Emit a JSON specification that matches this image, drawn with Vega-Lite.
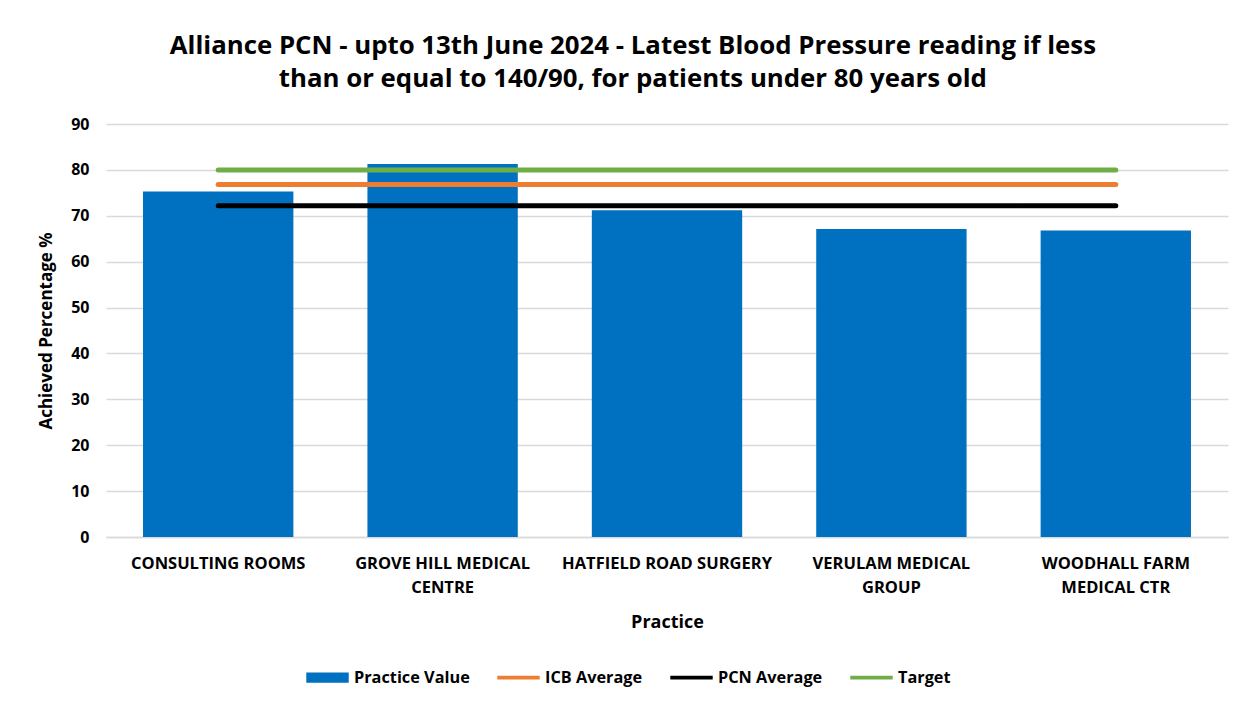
{
  "$schema": "https://vega.github.io/schema/vega-lite/v6.json",
  "width": 1122,
  "height": 413,
  "autosize": "none",
  "padding": {"left": 106, "top": 124, "right": 14, "bottom": 169},
  "background": "white",
  "config": {"view": {"stroke": null}},
  "title": {
    "text": ["Alliance PCN - upto 13th June 2024 - Latest Blood Pressure reading if less", "than or equal to 140/90, for patients under 80 years old"],
    "font": "Open Sans",
    "fontSize": 25.8,
    "fontWeight": "bold",
    "color": "#000000",
    "anchor": "middle",
    "frame": "bounds",
    "lineHeight": 33,
    "offset": 23
  },
  "data": {
    "values": [
      {"practice": "CONSULTING ROOMS", "series": "Practice Value", "value": 75.3},
      {"practice": "GROVE HILL MEDICAL CENTRE", "series": "Practice Value", "value": 81.3},
      {"practice": "HATFIELD ROAD SURGERY", "series": "Practice Value", "value": 71.2},
      {"practice": "VERULAM MEDICAL GROUP", "series": "Practice Value", "value": 67.1},
      {"practice": "WOODHALL FARM MEDICAL CTR", "series": "Practice Value", "value": 66.8},
      {"practice": "CONSULTING ROOMS", "series": "ICB Average", "value": 76.8},
      {"practice": "GROVE HILL MEDICAL CENTRE", "series": "ICB Average", "value": 76.8},
      {"practice": "HATFIELD ROAD SURGERY", "series": "ICB Average", "value": 76.8},
      {"practice": "VERULAM MEDICAL GROUP", "series": "ICB Average", "value": 76.8},
      {"practice": "WOODHALL FARM MEDICAL CTR", "series": "ICB Average", "value": 76.8},
      {"practice": "CONSULTING ROOMS", "series": "PCN Average", "value": 72.2},
      {"practice": "GROVE HILL MEDICAL CENTRE", "series": "PCN Average", "value": 72.2},
      {"practice": "HATFIELD ROAD SURGERY", "series": "PCN Average", "value": 72.2},
      {"practice": "VERULAM MEDICAL GROUP", "series": "PCN Average", "value": 72.2},
      {"practice": "WOODHALL FARM MEDICAL CTR", "series": "PCN Average", "value": 72.2},
      {"practice": "CONSULTING ROOMS", "series": "Target", "value": 80},
      {"practice": "GROVE HILL MEDICAL CENTRE", "series": "Target", "value": 80},
      {"practice": "HATFIELD ROAD SURGERY", "series": "Target", "value": 80},
      {"practice": "VERULAM MEDICAL GROUP", "series": "Target", "value": 80},
      {"practice": "WOODHALL FARM MEDICAL CTR", "series": "Target", "value": 80}
    ]
  },
  "encoding": {
    "x": {
      "field": "practice",
      "type": "nominal",
      "sort": null,
      "title": "Practice",
      "scale": {"paddingInner": 0.33, "paddingOuter": 0.165},
      "axis": {
        "labelAngle": 0,
        "labelFont": "Open Sans",
        "labelFontSize": 16.5,
        "labelFontWeight": "bold",
        "labelColor": "#000000",
        "labelPadding": 18,
        "labelLineHeight": 24,
        "labelLimit": 300,
        "labelExpr": "datum.value == 'GROVE HILL MEDICAL CENTRE' ? ['GROVE HILL MEDICAL', 'CENTRE'] : datum.value == 'VERULAM MEDICAL GROUP' ? ['VERULAM MEDICAL', 'GROUP'] : datum.value == 'WOODHALL FARM MEDICAL CTR' ? ['WOODHALL FARM', 'MEDICAL CTR'] : datum.value",
        "ticks": false,
        "domainColor": "#d9d9d9",
        "domainWidth": 1.5,
        "titleFont": "Open Sans",
        "titleFontSize": 18,
        "titleFontWeight": "bold",
        "titleColor": "#000000",
        "titlePadding": 18
      }
    },
    "y": {
      "field": "value",
      "type": "quantitative",
      "title": "Achieved Percentage %",
      "scale": {"domain": [0, 90]},
      "axis": {
        "values": [0, 10, 20, 30, 40, 50, 60, 70, 80, 90],
        "domain": false,
        "ticks": false,
        "gridColor": "#d9d9d9",
        "gridWidth": 1.5,
        "labelFont": "Open Sans",
        "labelFontSize": 16,
        "labelFontWeight": "bold",
        "labelColor": "#000000",
        "labelPadding": 17,
        "titleFont": "Open Sans",
        "titleFontSize": 17,
        "titleFontWeight": "bold",
        "titleColor": "#000000",
        "titlePadding": 15
      }
    },
    "color": {
      "field": "series",
      "type": "nominal",
      "title": null,
      "scale": {
        "domain": ["Practice Value", "ICB Average", "PCN Average", "Target"],
        "range": ["#0070C0", "#ED7D31", "#000000", "#70AD47"]
      },
      "legend": {
        "orient": "none",
        "legendX": 200,
        "legendY": 532,
        "direction": "horizontal",
        "labelFont": "Open Sans",
        "labelFontSize": 16.3,
        "labelFontWeight": "bold",
        "labelColor": "#000000",
        "labelOffset": 5,
        "symbolSize": 1800,
        "columnPadding": 27,
        "encode": {
          "symbols": {
            "update": {
              "shape": {"signal": "datum.value === 'Practice Value' ? 'M-1,-0.24H1V0.24H-1Z' : 'M-1,-0.09H1V0.09H-1Z'"},
              "fill": {"scale": "color", "field": "value"},
              "strokeWidth": {"value": 0},
              "opacity": {"value": 1}
            }
          }
        }
      }
    }
  },
  "layer": [
    {
      "transform": [{"filter": "datum.series === 'Practice Value'"}],
      "mark": {"type": "bar"}
    },
    {
      "transform": [{"filter": "datum.series !== 'Practice Value'"}],
      "mark": {"type": "line", "strokeWidth": 5, "strokeCap": "round"}
    }
  ]
}
